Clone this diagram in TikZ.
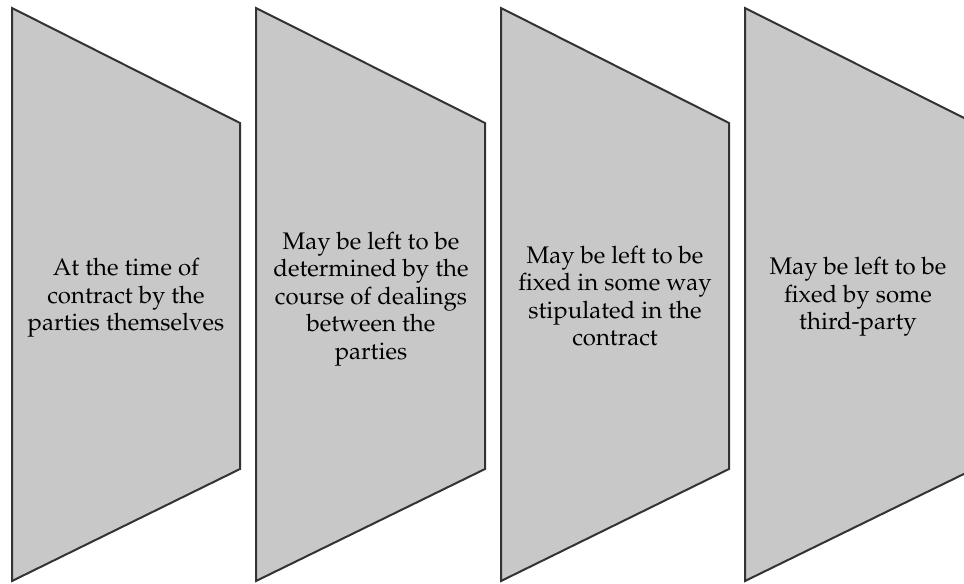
\documentclass[tikz,border=0pt]{standalone}
\usepackage[T1]{fontenc}
\usepackage{mathpazo}
\begin{document}
\begin{tikzpicture}[x=0.75pt,y=0.75pt,yscale=-1,xscale=1,
	panel/.style={draw={rgb,255:red,51;green,51;blue,51},fill={rgb,255:red,200;green,200;blue,200},line width=1.5pt,line join=miter},
	label/.style={inner sep=0.75pt,align=center,font=\fontsize{18}{20.6}\selectfont}]
			\useasboundingbox (0,0) rectangle (964,583);
			\clip (0,0) rectangle (964,583);
			%Shape: Trapezoid [id:dp1]
			\draw [panel] (12,8) -- (240,123) -- (240,469) -- (12,581) -- cycle ;
			%Shape: Trapezoid [id:dp2]
			\draw [panel] (256,8) -- (485,123) -- (485,469) -- (256,581) -- cycle ;
			%Shape: Trapezoid [id:dp3]
			\draw [panel] (501,8) -- (729,123) -- (729,469) -- (501,581) -- cycle ;
			%Shape: Trapezoid [id:dp4]
			\draw [panel] (745,8) -- (974,123) -- (974,469) -- (745,581) -- cycle ;
			% Text Node
			\draw (126,298) node [label] (timeofcontract) {At the time of\\contract by the\\parties themselves};
			% Text Node
			\draw (371,299) node [label] (courseofdealings) {May be left to be\\determined by the\\course of dealings\\between the\\parties};
			% Text Node
			\draw (615,296) node [label] (stipulated) {May be left to be\\fixed in some way\\stipulated in the\\contract};
			% Text Node
			\draw (858,297) node [label] (thirdparty) {May be left to be\\fixed by some\\third-party};
\end{tikzpicture}
\end{document}
